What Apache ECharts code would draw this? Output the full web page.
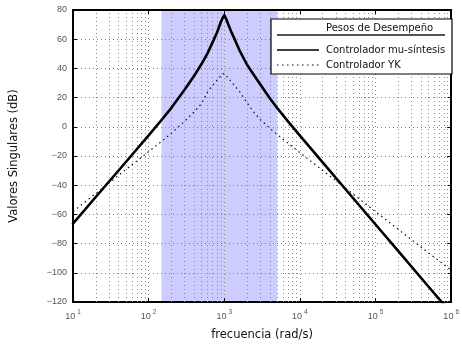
<!DOCTYPE html>
<html>
<head>
<meta charset="utf-8">
<script src="https://cdn.jsdelivr.net/npm/echarts@6/dist/echarts.min.js"></script>
<style>html,body{margin:0;padding:0;background:#fff;}#c{width:462px;height:346px;}</style>
</head>
<body>
<div id="c"></div>
<script>
// frequency samples (rad/s)
const freq = [10,20,50,100,150,200,300,400,500,600,700,800,900,950,1000,1050,1100,1250,1400,1600,2000,2500,3000,4000,5000,7000,10000,20000,50000,100000,200000,500000,1000000];
// singular values (dB)
const muSintesis = [-66.3,-48.1,-24.1,-5.9,5.0,13.0,25.5,35,43,50.3,57.8,64.4,71.8,74.4,76.5,74.3,71.6,64.5,59,52.1,42.5,35,29,19.6,12.9,3.5,-6.1,-24.4,-48.6,-66.9,-85.2,-109.4,-127.7];
const yk = [-58,-45.7,-29.3,-17,-9.8,-4.4,3.9,10.2,15.9,23.9,28.3,31.9,34.9,36.4,37.2,36.0,33.8,30.7,27.6,24.0,16.5,9.5,4.9,-1.0,-5.2,-11.4,-17.7,-29.9,-45.9,-58.1,-70.3,-86.3,-98.1];
// performance-weight band (rad/s)
const bandRange = [148, 5000];
const seriesNames = ['Pesos de Desempeño', 'Controlador mu-síntesis', 'Controlador YK'];
const xTicks = [10, 100, 1000, 10000, 100000, 1000000];
const yTicks = [-120, -100, -80, -60, -40, -20, 0, 20, 40, 60, 80];

const minorX = [];
for (let d = 10; d < 1000000; d *= 10) for (let k = 2; k <= 9; k++) minorX.push(d * k);

const FONT = 'DejaVu Sans';
const LFONT = 'Liberation Sans';
const chart = echarts.init(document.getElementById('c'), null, {renderer: 'canvas'});
const grid = {left: 69, right: 4, top: 10, bottom: 39};
const gridLine = {show: true, lineStyle: {color: '#8a8a8a', type: [1, 3], width: 1}};
const frame = {show: true, onZero: false, lineStyle: {color: '#000', width: 2}};
const ticks = {show: true, inside: true, length: 4, lineStyle: {color: '#000'}};

chart.setOption({
  animation: false,
  backgroundColor: '#fff',
  grid: grid,
  xAxis: [{
    type: 'log', logBase: 10, min: xTicks[0], max: xTicks[xTicks.length - 1],
    z: 3,
    name: 'frecuencia (rad/s)', nameLocation: 'middle', nameGap: 27,
    nameTextStyle: {fontFamily: FONT, fontSize: 11.5, color: '#111'},
    axisLine: frame, axisTick: ticks,
    axisLabel: {
      margin: 7, fontFamily: LFONT, color: '#555',
      formatter: function (v) { return '{b|10}{s|' + Math.round(Math.log10(v)) + '}'; },
      rich: {b: {fontSize: 9, fontFamily: LFONT, color: '#555'}, s: {fontSize: 6.5, fontFamily: LFONT, color: '#555', padding: [0, 0, 9, 2]}}
    },
    splitLine: gridLine
  }, {
    type: 'log', logBase: 10, min: xTicks[0], max: xTicks[xTicks.length - 1], position: 'top', z: 3,
    axisLine: frame, axisTick: ticks, axisLabel: {show: false}, splitLine: {show: false}
  }],
  yAxis: [{
    type: 'value', min: yTicks[0], max: yTicks[yTicks.length - 1], interval: 20, z: 3,
    name: 'Valores Singulares (dB)', nameLocation: 'middle', nameGap: 53, nameRotate: 90,
    nameTextStyle: {fontFamily: FONT, fontSize: 11.5, color: '#111'},
    axisLine: frame, axisTick: ticks,
    axisLabel: {margin: 6, fontFamily: LFONT, fontSize: 9, color: '#555',
      formatter: function (v) { return String(v).replace('-', '\u2212'); }},
    splitLine: gridLine
  }, {
    type: 'value', min: yTicks[0], max: yTicks[yTicks.length - 1], interval: 20, position: 'right', z: 3,
    axisLine: frame, axisTick: ticks, axisLabel: {show: false}, splitLine: {show: false}
  }],
  series: [{
    name: seriesNames[0], type: 'line', data: [], z: 1,
    markArea: {silent: true, itemStyle: {color: '#ccccff'},
      data: [[{xAxis: bandRange[0]}, {xAxis: bandRange[1]}]]}
  }, {
    name: 'minor-grid', type: 'line', data: [], z: 3,
    markLine: {silent: true, symbol: 'none', label: {show: false},
      lineStyle: {color: '#8a8a8a', type: [1, 3], width: 1},
      data: minorX.map(v => ({xAxis: v}))}
  }, {
    name: seriesNames[1], type: 'line', z: 5, showSymbol: false, clip: true,
    data: freq.map((f, i) => [f, muSintesis[i]]),
    lineStyle: {color: '#000', width: 2.6, join: 'round', cap: 'round'}
  }, {
    name: seriesNames[2], type: 'line', z: 5, showSymbol: false, clip: true,
    data: freq.map((f, i) => [f, yk[i]]),
    lineStyle: {color: '#111', width: 1.2, type: [1.5, 3.5]}
  }],
  graphic: [
    {type: 'rect', z: 100, shape: {x: 271, y: 19, width: 181, height: 55}, style: {fill: '#fff', stroke: '#000', lineWidth: 1.2}},
    {type: 'text', z: 101, x: 326, y: 28, style: {text: seriesNames[0], fontFamily: FONT, fontSize: 10, fill: '#111', verticalAlign: 'middle'}},
    {type: 'line', z: 101, shape: {x1: 277, y1: 35, x2: 445, y2: 35}, style: {stroke: '#555', lineWidth: 2}},
    {type: 'line', z: 101, shape: {x1: 277, y1: 50, x2: 319, y2: 50}, style: {stroke: '#000', lineWidth: 1.5}},
    {type: 'text', z: 101, x: 326, y: 50, style: {text: seriesNames[1], fontFamily: FONT, fontSize: 10, fill: '#111', verticalAlign: 'middle'}},
    {type: 'line', z: 101, shape: {x1: 277, y1: 65, x2: 319, y2: 65}, style: {stroke: '#111', lineWidth: 1.2, lineDash: [1.5, 3.5]}},
    {type: 'text', z: 101, x: 326, y: 65, style: {text: seriesNames[2], fontFamily: FONT, fontSize: 10, fill: '#111', verticalAlign: 'middle'}}
  ]
});
</script>
</body>
</html>
